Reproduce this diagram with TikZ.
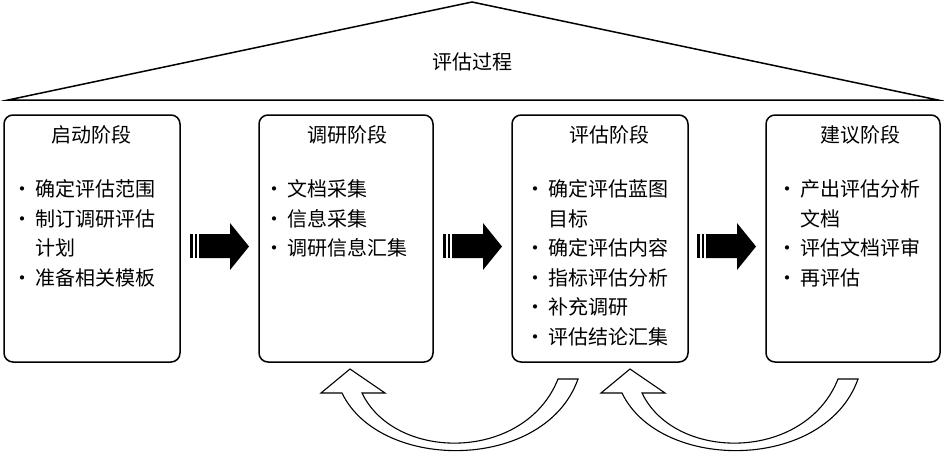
\documentclass[tikz,border=0pt]{standalone}
\usepackage{fontspec}
\setmainfont{Noto Sans CJK SC}
\begin{document}
\begin{tikzpicture}[x=1pt,y=-1pt,
  box/.style={draw,line width=1.5pt,rounded corners=9pt,minimum height=247pt,inner sep=0pt},
  ttl/.style={font=\fontsize{20pt}{24pt}\selectfont,inner sep=0pt},
  item/.style={font=\fontsize{20pt}{24pt}\selectfont,inner sep=0pt,anchor=west},
  curvearrow/.style={draw,line width=1.1pt,fill=white,line join=miter}]
\useasboundingbox (0,0) rectangle (944,451);
% top triangle
\draw[line width=1.5pt,line join=miter] (8,100) -- (472,2) -- (938,100) -- cycle;
\node[ttl] (top) at (472,62) {评估过程};
% boxes
\node[box,minimum width=176pt] (b1) at (92,238.5) {};
\node[box,minimum width=174pt] (b2) at (346,238.5) {};
\node[box,minimum width=176pt] (b3) at (600,238.5) {};
\node[box,minimum width=174pt] (b4) at (853,238.5) {};
% titles
\node[ttl] (t1) at (91,135) {启动阶段};
\node[ttl] (t2) at (347,135) {调研阶段};
\node[ttl] (t3) at (609,135) {评估阶段};
\node[ttl] (t4) at (860,135) {建议阶段};
\newcommand\bul{\llap{\makebox[26pt][c]{·}}}
% box 1
\node[item] (i11) at (35,189) {\bul 确定评估范围};
\node[item] (i12) at (35,218.5) {\bul 制订调研评估};
\node[item] (i13) at (35,248) {计划};
\node[item] (i14) at (35,277.5) {\bul 准备相关模板};
% box 2
\node[item] (i21) at (287,189) {\bul 文档采集};
\node[item] (i22) at (287,218.5) {\bul 信息采集};
\node[item] (i23) at (287,248) {\bul 调研信息汇集};
% box 3
\node[item] (i31) at (548,189) {\bul 确定评估蓝图};
\node[item] (i32) at (548,218.5) {目标};
\node[item] (i33) at (548,248) {\bul 确定评估内容};
\node[item] (i34) at (548,277.5) {\bul 指标评估分析};
\node[item] (i35) at (548,307) {\bul 补充调研};
\node[item] (i36) at (548,336.5) {\bul 评估结论汇集};
% box 4
\node[item] (i41) at (800,189) {\bul 产出评估分析};
\node[item] (i42) at (800,218.5) {文档};
\node[item] (i43) at (800,248) {\bul 评估文档评审};
\node[item] (i44) at (800,277.5) {\bul 再评估};
% striped block arrows
\foreach \x in {190,443,697}{
  \fill (\x,234) rectangle (\x+3,258);
  \fill (\x+4.5,234) rectangle (\x+6.5,258);
  \fill (\x+9,234) -- (\x+40,234) -- (\x+40,223) -- (\x+59,246.5) -- (\x+40,270) -- (\x+40,258) -- (\x+9,258) -- cycle;
}
% curved feedback arrows
\foreach \d in {0,280}{
  \begin{scope}[xshift=\d pt]
  \draw[curvearrow] (342,393) -- (321,393) -- (350,369) -- (385,393) -- (362,393)
     .. controls (395,462) and (525,462) .. (558,379) -- (578,379)
     .. controls (545,472) and (380,472) .. (342,393) -- cycle;
  \end{scope}
}
\end{tikzpicture}
\end{document}
